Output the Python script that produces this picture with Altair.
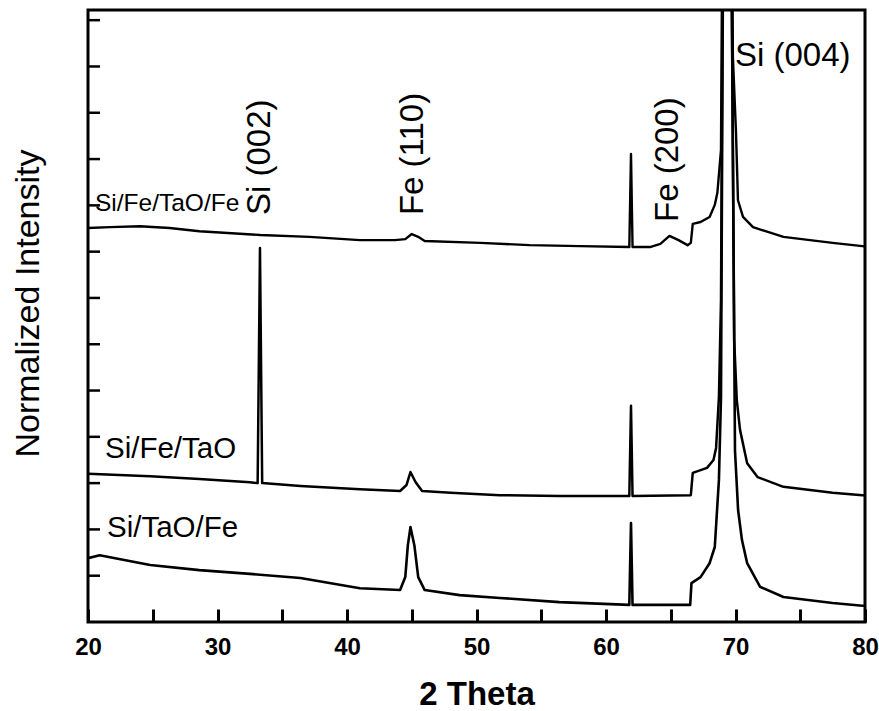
import altair as alt
import pandas as pd

# ---- data ----
samples = ["Si/Fe/TaO/Fe", "Si/Fe/TaO", "Si/TaO/Fe"]

top_x = [20.0, 21.7, 24.0, 26.3, 28.6, 33.3, 37.1, 41.0, 43.7, 44.5, 45.0, 45.5, 46.0,
         50.3, 54.1, 58.0, 61.8, 61.93, 62.05, 63.4, 64.2, 64.9, 65.6, 66.3, 66.55, 66.7,
         67.3, 68.0, 68.4, 68.6, 68.88, 69.3, 69.8, 70.04, 70.19, 70.58, 71.35, 73.7,
         77.5, 79.8, 80.0]
top_y = [8.51, 8.53, 8.55, 8.51, 8.44, 8.36, 8.32, 8.25, 8.25, 8.27, 8.38, 8.32, 8.23,
         8.19, 8.14, 8.12, 8.10, 10.11, 8.10, 8.10, 8.17, 8.34, 8.25, 8.14, 8.19, 8.60,
         8.64, 8.75, 9.01, 9.27, 10.2, 30.0, 12.2, 10.56, 9.11, 8.75, 8.53, 8.32,
         8.19, 8.12, 8.11]

mid_x = [20.0, 24.8, 28.6, 32.5, 33.1, 33.28, 33.45, 36.4, 41.0, 44.1, 44.6, 44.9, 45.3,
         45.8, 48.0, 51.8, 56.4, 61.8, 61.93, 62.05, 66.55, 66.7, 67.8, 68.3, 68.5, 68.72,
         68.88, 69.3, 69.9, 70.1, 70.35, 70.9, 71.7, 73.7, 77.5, 79.8, 80.0]
mid_y = [3.20, 3.15, 3.09, 3.02, 3.00, 8.08, 3.00, 2.94, 2.87, 2.83, 2.96, 3.24, 3.02,
         2.83, 2.79, 2.74, 2.72, 2.72, 4.67, 2.72, 2.74, 3.22, 3.33, 3.50, 3.76, 4.86,
         6.95, 30.0, 6.09, 4.79, 4.15, 3.43, 3.13, 2.92, 2.79, 2.74, 2.74]

bot_x = [20.0, 20.9, 24.8, 28.6, 32.5, 36.4, 41.0, 44.1, 44.5, 44.7, 44.9, 45.2, 45.5,
         46.0, 48.7, 51.8, 56.4, 61.8, 61.93, 62.05, 66.5, 66.6, 67.3, 68.0, 68.4, 68.72,
         68.88, 69.3, 69.96, 70.2, 70.5, 70.9, 71.9, 73.7, 77.5, 79.8, 80.0]
bot_y = [1.38, 1.44, 1.23, 1.12, 1.04, 0.95, 0.73, 0.69, 0.97, 1.66, 2.05, 1.66, 0.97,
         0.69, 0.58, 0.52, 0.43, 0.37, 2.14, 0.37, 0.37, 0.84, 0.97, 1.27, 1.62, 3.07,
         4.86, 30.0, 3.71, 2.42, 1.77, 1.27, 0.76, 0.54, 0.41, 0.35, 0.35]

# sample labels (left side)
label_text = ["Si/Fe/TaO/Fe", "Si/Fe/TaO", "Si/TaO/Fe"]
label_x = [20.54, 21.31, 21.47]
label_y = [9.03, 3.74, 2.03]
label_size = [24.5, 29.5, 29.5]

# peak annotations (rotated)
peak_text = ["Si (002)", "Fe (110)", "Fe (200)"]
peak_x = [33.28, 45.1, 64.8]
peak_y = [8.79, 8.79, 8.64]

# horizontal peak annotation
peak2_text = ["Si (004)"]
peak2_x = [69.96]
peak2_y = [12.22]

x_tick_values = [20, 25, 30, 35, 40, 45, 50, 55, 60, 65, 70, 75, 80]
y_ticks = [1, 2, 3, 4, 5, 6, 7, 8, 9, 10, 11, 12, 13]
x_title = "2 Theta"
y_title = "Normalized Intensity"

FONT = "Liberation Sans"
X_MIN, X_MAX = 20, 80
Y_MIN, Y_MAX = 0, 13.22
PLOT_W, PLOT_H = 777, 612
TICK = 13

# ---- build tables ----
rows = []
for name, xs, ys in zip(samples, [top_x, mid_x, bot_x], [top_y, mid_y, bot_y]):
    for i, (x, y) in enumerate(zip(xs, ys)):
        rows.append({"sample": name, "xv": x, "yv": y, "order": i})
df = pd.DataFrame(rows)

labels_df = pd.DataFrame({"text": label_text, "xv": label_x, "yv": label_y, "size": label_size})
peaks_df = pd.DataFrame({"text": peak_text, "xv": peak_x, "yv": peak_y})
peaks2_df = pd.DataFrame({"text": peak2_text, "xv": peak2_x, "yv": peak2_y})
yt_df = pd.DataFrame({"yv": y_ticks})

xscale = alt.Scale(domain=[X_MIN, X_MAX], nice=False, zero=False)
yscale = alt.Scale(domain=[Y_MIN, Y_MAX], nice=False, zero=False)

# bottom axis pulled up into the plot by the tick length, so its ticks point inward
x_axis = alt.Axis(
    title=x_title, orient="bottom", values=x_tick_values, format="d",
    labelExpr="datum.value % 10 === 0 ? datum.label : ''",
    offset=-TICK, ticks=True, tickSize=TICK, tickWidth=3, tickColor="black",
    domain=False, grid=False, labelFlush=False, labelOverlap=False,
    labelFont=FONT, labelFontSize=24, labelFontWeight="bold", labelColor="black",
    labelPadding=13,
    titleFont=FONT, titleFontSize=33, titleFontWeight="bold", titleColor="black",
    titleBaseline="alphabetic", titleY=95)
y_axis = alt.Axis(
    title=y_title, orient="left", labels=False, ticks=False,
    domain=False, grid=False, titleFont=FONT, titleFontSize=34,
    titleFontWeight="normal", titleColor="black", titleAngle=270,
    titleBaseline="middle", titleAlign="center", titleX=-60, titleY=293)

X = alt.X("xv:Q", scale=xscale, axis=x_axis, title=x_title)
Y = alt.Y("yv:Q", scale=yscale, axis=y_axis, title=y_title)

lines = alt.Chart(df).mark_line(color="black", clip=True, strokeJoin="round").encode(
    x=X, y=Y,
    detail="sample:N",
    order="order:Q",
    strokeWidth=alt.StrokeWidth("sample:N", scale=alt.Scale(domain=samples, range=[2.4, 2.6, 3.2]), legend=None),
)

# inward ticks on the left axis
yt = alt.Chart(yt_df).mark_rule(color="black", strokeWidth=2.5).encode(
    y=Y, x=alt.value(0), x2=alt.value(12))

sample_labels = alt.Chart(labels_df).mark_text(
    align="left", baseline="middle", font=FONT, color="black").encode(
    x=X, y=Y, text="text:N", size=alt.Size("size:Q", scale=None, legend=None))

peak_labels = alt.Chart(peaks_df).mark_text(
    angle=270, align="left", baseline="middle", font=FONT, fontSize=33, color="black").encode(
    x=X, y=Y, text="text:N")

peak2_labels = alt.Chart(peaks2_df).mark_text(
    align="left", baseline="middle", font=FONT, fontSize=33, color="black").encode(
    x=X, y=Y, text="text:N")

chart = alt.layer(lines, yt, sample_labels, peak_labels, peak2_labels).properties(
    width=PLOT_W, height=PLOT_H,
    autosize=alt.AutoSizeParams(type="none"),
    padding={"left": 88, "top": 10, "right": 14, "bottom": 89},
    background="white",
).configure_view(stroke="black", strokeWidth=3)

chart.save("out.html", embed_options={"renderer": "svg", "actions": False})
